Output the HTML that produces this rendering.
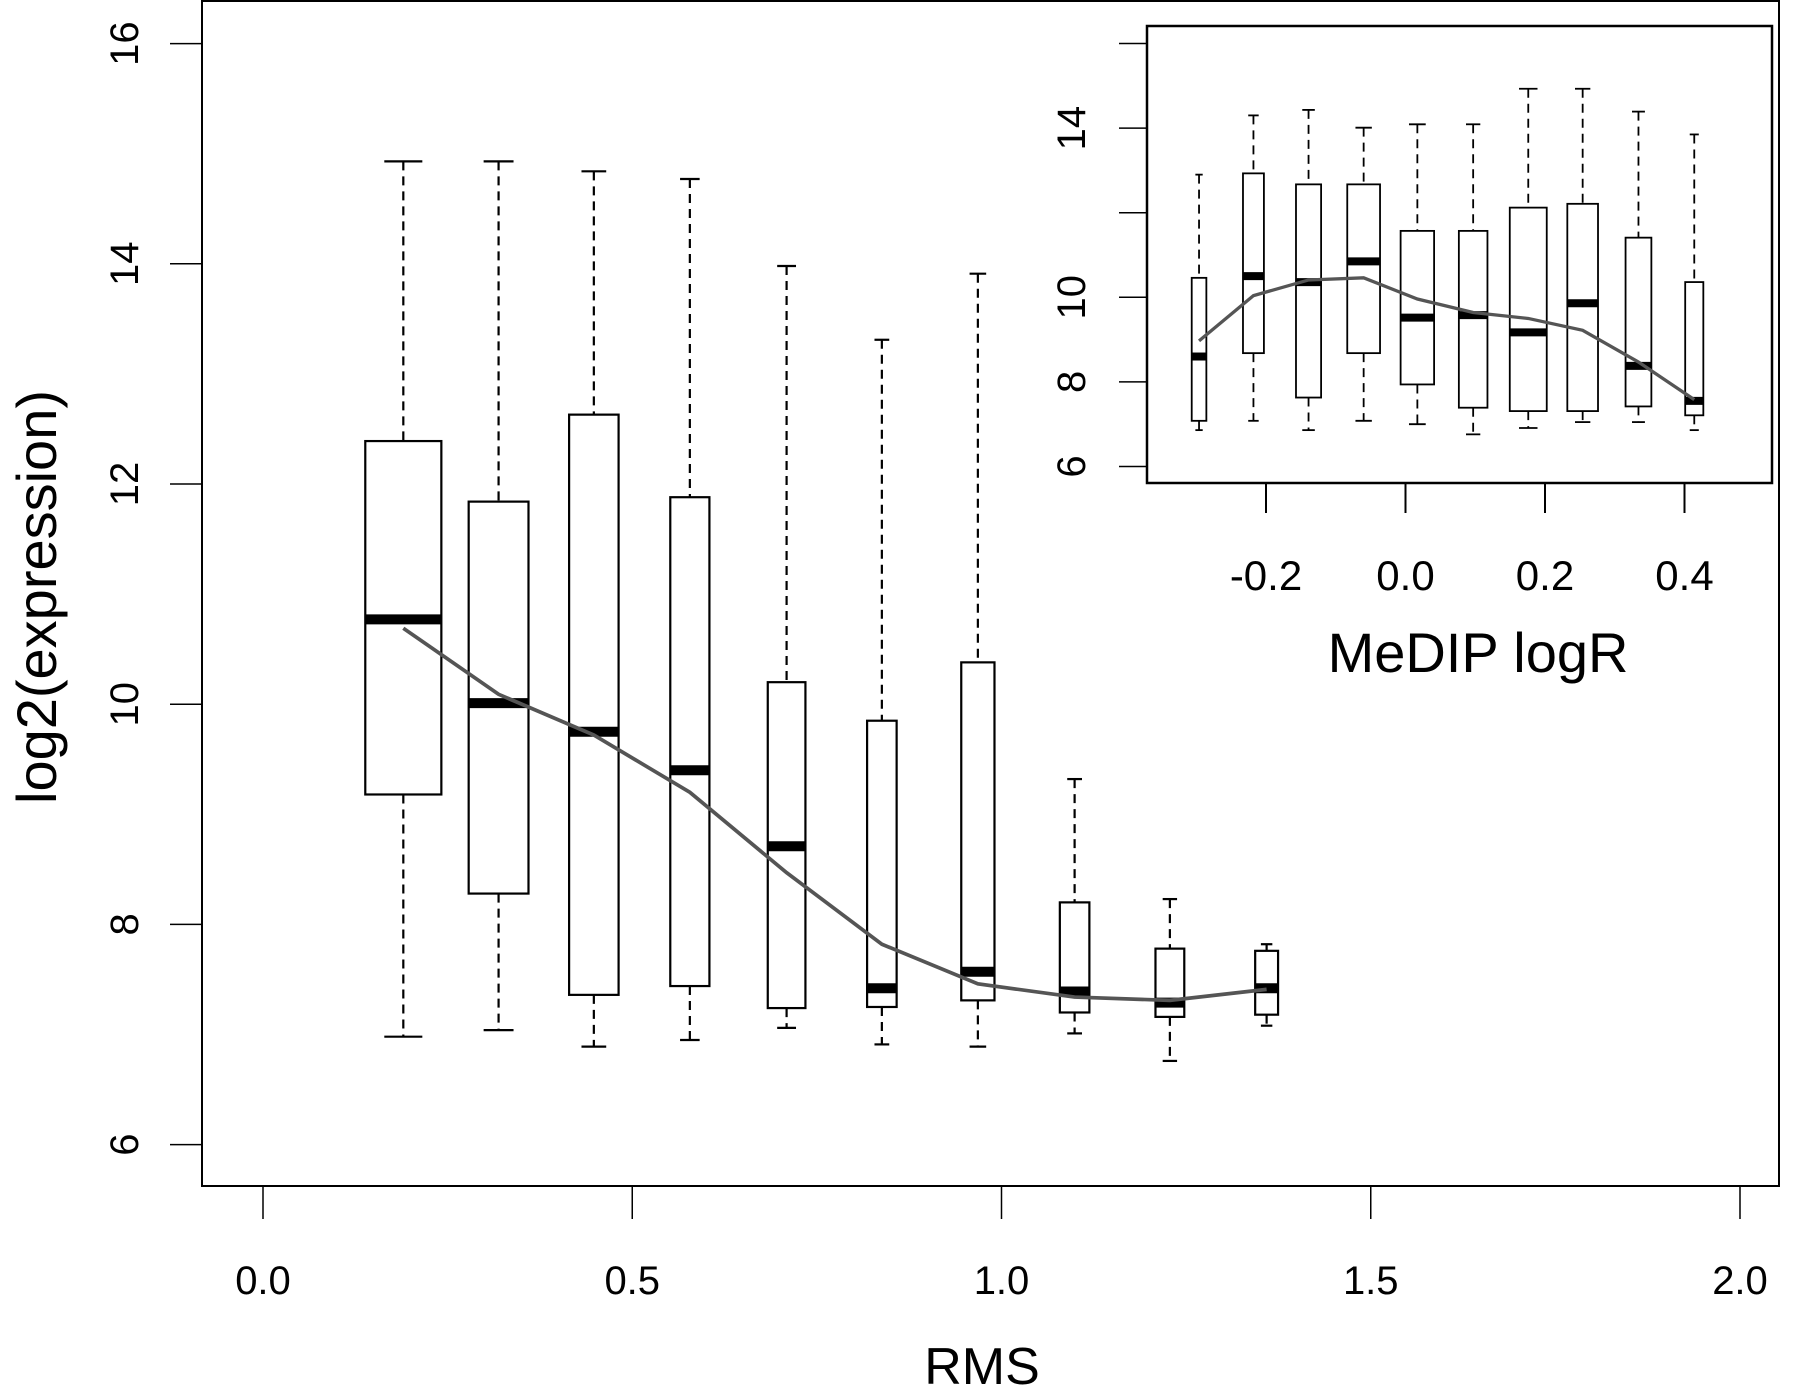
<!DOCTYPE html>
<html><head><meta charset="utf-8">
<style>html,body{margin:0;padding:0;background:#fff}svg{display:block}text{font-family:"Liberation Sans",sans-serif;fill:#000}</style>
</head><body>
<svg id="chart" width="1800" height="1386" viewBox="0 0 1800 1386" xmlns="http://www.w3.org/2000/svg"></svg>
<script>
// main chart data
const mainX = [0.19,0.319,0.448,0.578,0.709,0.838,0.968,1.099,1.228,1.359];
const mainW = [0.103,0.081,0.067,0.053,0.051,0.040,0.045,0.040,0.039,0.031];
const mainHi = [14.93,14.93,14.84,14.77,13.98,13.31,13.91,9.32,8.23,7.82];
const mainQ3 = [12.39,11.84,12.63,11.88,10.2,9.85,10.38,8.2,7.78,7.76];
const mainMed = [10.77,10.01,9.75,9.40,8.71,7.42,7.57,7.39,7.29,7.42];
const mainQ1 = [9.18,8.28,7.36,7.44,7.24,7.25,7.31,7.2,7.16,7.18];
const mainLo = [6.98,7.04,6.89,6.95,7.06,6.91,6.89,7.01,6.76,7.08];
const mainFit = [10.69,10.09,9.72,9.2,8.47,7.82,7.46,7.34,7.31,7.41];
const mainXTicks = ["0.0","0.5","1.0","1.5","2.0"];
const mainYTicks = ["6","8","10","12","14","16"];
// inset data
const insX = [-0.296,-0.218,-0.139,-0.060,0.017,0.097,0.176,0.254,0.334,0.414];
const insW = [0.021,0.030,0.036,0.047,0.048,0.041,0.053,0.044,0.037,0.026];
const insHi = [12.9,14.3,14.43,14.01,14.09,14.09,14.93,14.93,14.39,13.85];
const insQ3 = [10.46,12.93,12.67,12.67,11.57,11.57,12.12,12.21,11.41,10.36];
const insMed = [8.6,10.5,10.36,10.85,9.52,9.58,9.17,9.86,8.38,7.55];
const insQ1 = [7.08,8.68,7.63,8.68,7.94,7.39,7.31,7.31,7.42,7.21];
const insLo = [6.86,7.08,6.86,7.08,7.0,6.76,6.91,7.05,7.05,6.86];
const insFit = [8.97,10.04,10.41,10.46,9.96,9.64,9.5,9.22,8.47,7.58];
const insXTicks = ["-0.2","0.0","0.2","0.4"];
const insYTicks = ["6","8","10","12","14","16"];
const insYShown = ["6","8","10","14"];

const svg = document.getElementById('chart');
const NS = 'http://www.w3.org/2000/svg';
function mk(tag, attrs, parent){const e=document.createElementNS(NS,tag);for(const k in attrs)e.setAttribute(k,attrs[k]);(parent||svg).appendChild(e);return e;}

function drawBoxes(g, X, W, Hi, Q3, Med, Q1, Lo, Fit, sx, sy, lw, medW, prefix){
  for(let i=0;i<X.length;i++){
    const cx=sx(X[i]), hw=(sx(X[i]+W[i])-sx(X[i]))/2, cap=hw*0.5;
    const b=mk('g',{},g);
    
    
    mk('line',{x1:cx,x2:cx,y1:sy(Hi[i]),y2:sy(Q3[i]),stroke:'#000','stroke-width':lw,'stroke-dasharray':'9,6'},b);
    mk('line',{x1:cx,x2:cx,y1:sy(Q1[i]),y2:sy(Lo[i]),stroke:'#000','stroke-width':lw,'stroke-dasharray':'9,6'},b);
    mk('line',{x1:cx-cap,x2:cx+cap,y1:sy(Hi[i]),y2:sy(Hi[i]),stroke:'#000','stroke-width':lw},b);
    mk('line',{x1:cx-cap,x2:cx+cap,y1:sy(Lo[i]),y2:sy(Lo[i]),stroke:'#000','stroke-width':lw},b);
    mk('rect',{x:cx-hw,y:sy(Q3[i]),width:2*hw,height:sy(Q1[i])-sy(Q3[i]),fill:'#fff',stroke:'#000','stroke-width':lw},b);
    const m=mk('line',{x1:cx-hw,x2:cx+hw,y1:sy(Med[i]),y2:sy(Med[i]),stroke:'#000','stroke-width':medW},b);
    
    
  }
  const pts=X.map((x,i)=>sx(x)+','+sy(Fit[i])).join(' ');
  const pl=mk('polyline',{points:pts,fill:'none',stroke:'#555','stroke-width':lw+1.5},g);
  
  
}

// main axes
const msx=v=>263+v*(1740-263)/2;
const msy=v=>1144.6-(v-6)*110.1;
const frame=mk('rect',{x:202,y:1,width:1577,height:1185,fill:'none',stroke:'#000','stroke-width':2});


const mg=mk('g',{});


drawBoxes(mg,mainX,mainW,mainHi,mainQ3,mainMed,mainQ1,mainLo,mainFit,msx,msy,2.2,10,'main');

mainXTicks.forEach(t=>{const x=msx(parseFloat(t));
  mk('line',{x1:x,x2:x,y1:1186,y2:1219,stroke:'#000','stroke-width':1.5});
  const tx=mk('text',{x:x,y:1294,'font-size':40,'text-anchor':'middle'});tx.textContent=t;
  
  
});
mainYTicks.forEach(t=>{const y=msy(parseFloat(t));
  mk('line',{x1:170,x2:202,y1:y,y2:y,stroke:'#000','stroke-width':1.5});
  const tx=mk('text',{x:138,y:y,'font-size':40,'text-anchor':'middle',transform:'rotate(-90 138 '+y+')'});tx.textContent=t;
  
  
});
const xt=mk('text',{x:982,y:1384,'font-size':52,'text-anchor':'middle'});xt.textContent='RMS';


const yt=mk('text',{x:56,y:597,'font-size':56,'text-anchor':'middle',transform:'rotate(-90 56 597)'});yt.textContent='log2(expression)';



// inset
const isx=v=>1405.5+v*697.5;
const isy=v=>466.5-(v-6)*42.3;
const ifr=mk('rect',{x:1147,y:26,width:625,height:457,fill:'#fff',stroke:'#000','stroke-width':2.5});


const ig=mk('g',{});


drawBoxes(ig,insX,insW,insHi,insQ3,insMed,insQ1,insLo,insFit,isx,isy,1.8,8,'inset');
insXTicks.forEach(t=>{const x=isx(parseFloat(t));
  mk('line',{x1:x,x2:x,y1:483,y2:513,stroke:'#000','stroke-width':2});
  const tx=mk('text',{x:x,y:590,'font-size':42,'text-anchor':'middle'});tx.textContent=t;
  
  
});
insYTicks.forEach(t=>{const y=isy(parseFloat(t));
  mk('line',{x1:1119,x2:1147,y1:y,y2:y,stroke:'#000','stroke-width':1.5});
  if(insYShown.includes(t)){
    const tx=mk('text',{x:1085,y:y,'font-size':40,'text-anchor':'middle',transform:'rotate(-90 1085 '+y+')'});tx.textContent=t;
    
    
  }
});
const it=mk('text',{x:1478,y:672,'font-size':56,'text-anchor':'middle'});it.textContent='MeDIP logR';


</script>
</body></html>
